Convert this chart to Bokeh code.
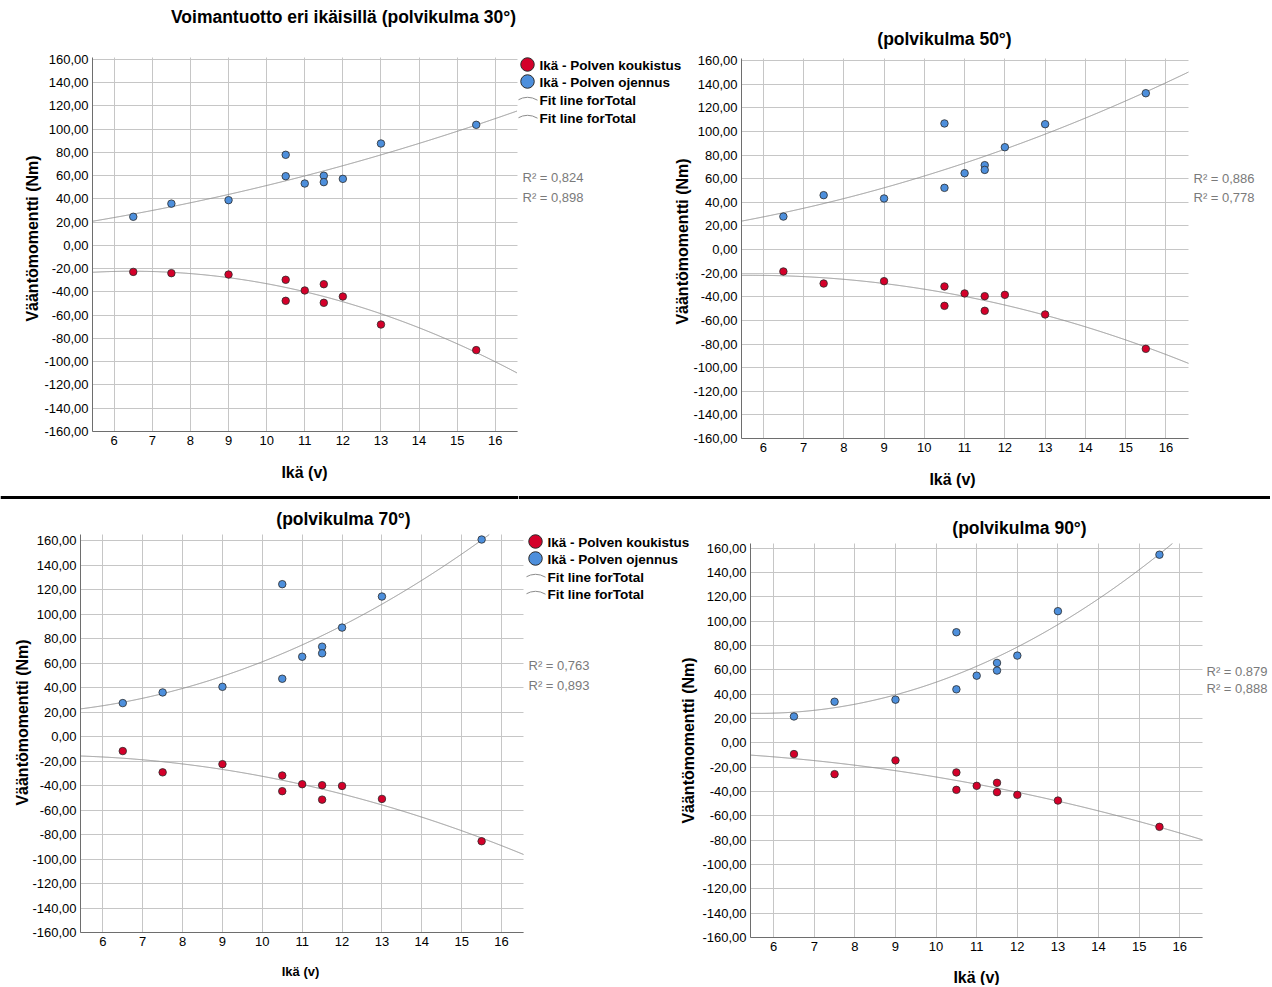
import math
import numpy as np
from bokeh.plotting import figure
from bokeh.models import Label, FixedTicker, Range1d, LinearAxis, Grid, Span
from bokeh.layouts import column, row
from bokeh.embed import file_html
from bokeh.resources import INLINE

# ---------------- data ----------------
ages = [6.5, 7.5, 9.0, 10.5, 10.5, 11.0, 11.5, 11.5, 12.0, 13.0, 15.5]

ext_30 = [24.7, 36.0, 39.0, 78.0, 59.6, 53.3, 60.0, 54.5, 57.3, 87.7, 103.8]
flex_30 = [-22.7, -23.8, -25.0, -29.5, -47.6, -38.7, -33.3, -49.3, -43.9, -68.0, -90.0]

ext_50 = [27.9, 46.0, 43.2, 106.7, 52.2, 64.6, 71.4, 67.4, 86.6, 106.1, 132.3]
flex_50 = [-18.6, -28.8, -26.8, -31.3, -47.7, -37.2, -39.5, -51.9, -38.4, -55.0, -84.1]

ext_70 = [27.5, 36.2, 40.8, 124.7, 47.4, 65.4, 73.6, 68.2, 89.2, 114.6, 161.2]
flex_70 = [-11.7, -29.1, -22.4, -31.7, -44.5, -38.8, -39.6, -51.4, -40.2, -50.8, -85.4]

ext_90 = [21.6, 33.7, 35.4, 90.8, 43.9, 55.1, 65.6, 59.3, 71.6, 108.1, 154.5]
flex_90 = [-9.3, -25.8, -14.5, -24.4, -38.7, -35.4, -32.9, -40.6, -42.8, -47.5, -69.1]

y_ticks = [-160, -140, -120, -100, -80, -60, -40, -20, 0, 20, 40, 60, 80, 100, 120, 140, 160]
y_tick_labels = ["-160,00", "-140,00", "-120,00", "-100,00", "-80,00", "-60,00", "-40,00",
                 "-20,00", "0,00", "20,00", "40,00", "60,00", "80,00", "100,00", "120,00",
                 "140,00", "160,00"]
x_ticks = [6, 7, 8, 9, 10, 11, 12, 13, 14, 15, 16]
x_tick_labels = ["6", "7", "8", "9", "10", "11", "12", "13", "14", "15", "16"]

titles = ["Voimantuotto eri ikäisillä (polvikulma 30°)", "(polvikulma 50°)",
          "(polvikulma 70°)", "(polvikulma 90°)"]
r2_texts = [["R² = 0,824", "R² = 0,898"], ["R² = 0,886", "R² = 0,778"],
            ["R² = 0,763", "R² = 0,893"], ["R² = 0.879", "R² = 0,888"]]
legend_labels = ["Ikä - Polven koukistus", "Ikä - Polven ojennus",
                 "Fit line forTotal", "Fit line forTotal"]
y_title = "Vääntömomentti (Nm)"
x_title = "Ikä (v)"

RED = "#d4002a"
BLUE = "#4d8fdc"
FIT = "#8c8c8c"
GRID = "#c6c6c6"
AXIS = "#6e6e6e"
R2COL = "#7a7a7a"
FONT = "Liberation Sans"


class Geo:
    """Maps page pixels to a panel's data space (the frame fills the canvas)."""
    def __init__(self, cx, cy, W, H, bx0, bx1, by0, by1, xr, yr):
        self.cx, self.cy, self.W, self.H = cx, cy, W, H
        self.xr, self.yr = xr, yr
        self.kx = (xr[1] - xr[0]) / (bx1 - bx0)
        self.ky = (yr[1] - yr[0]) / (by1 - by0)
        self.x_start = xr[0] - (bx0 - cx) * self.kx
        self.x_end = xr[1] + (cx + W - bx1) * self.kx
        self.y_end = yr[1] + (by0 - cy) * self.ky
        self.y_start = yr[0] - (cy + H - by1) * self.ky

    def dx(self, sx):
        return self.x_start + (sx - self.cx) * self.kx

    def dy(self, sy):
        return self.y_end - (sy - self.cy) * self.ky


def make_panel(g, ext, flex):
    p = figure(width=g.W, height=g.H, x_range=Range1d(g.x_start, g.x_end),
               y_range=Range1d(g.y_start, g.y_end), x_axis_type=None, y_axis_type=None,
               min_border=0, title=None, output_backend="svg", toolbar_location=None,
               outline_line_color=None, background_fill_color="white",
               border_fill_color="white")
    x0, x1 = g.xr
    y0, y1 = g.yr
    try:
        vg = Grid(dimension=0, ticker=FixedTicker(ticks=x_ticks), cross_bounds=(y0, y1),
                  grid_line_color=GRID, grid_line_width=1)
        hg = Grid(dimension=1, ticker=FixedTicker(ticks=y_ticks), cross_bounds=(x0, x1),
                  grid_line_color=GRID, grid_line_width=1)
        p.add_layout(vg)
        p.add_layout(hg)
    except Exception:
        p.segment(x0=x_ticks, y0=[y0] * len(x_ticks), x1=x_ticks, y1=[y1] * len(x_ticks),
                  line_color=GRID, line_width=1)
        p.segment(x0=[x0] * len(y_ticks), y0=y_ticks, x1=[x1] * len(y_ticks), y1=y_ticks,
                  line_color=GRID, line_width=1)

    yax = LinearAxis(fixed_location=x0, bounds=(y0, y1), ticker=FixedTicker(ticks=y_ticks),
                     major_label_overrides=dict(zip(y_ticks, y_tick_labels)))
    xax = LinearAxis(fixed_location=y0, bounds=(x0, x1), ticker=FixedTicker(ticks=x_ticks),
                     major_label_overrides=dict(zip(x_ticks, x_tick_labels)))
    for ax in (xax, yax):
        ax.major_tick_out = 0
        ax.major_tick_in = 0
        ax.minor_tick_out = 0
        ax.minor_tick_in = 0
        ax.axis_line_color = AXIS
        ax.major_label_text_font = FONT
        ax.major_label_text_font_size = "13px"
        ax.major_label_text_color = "black"
    xax.major_label_standoff = 4
    yax.major_label_standoff = 4
    p.add_layout(yax, "left")
    p.add_layout(xax, "below")

    # quadratic fit lines (regression of the plotted data), kept inside the plot box
    xs = np.linspace(x0, x1, 1500)
    for ser in (ext, flex):
        coef = np.polyfit(ages, ser, 2)
        ys = np.polyval(coef, xs)
        ys = np.where((ys > y1) | (ys < y0), np.nan, ys)
        p.line(xs, ys, line_color=FIT, line_width=1)
    p.scatter(ages, flex, size=7.5, fill_color=RED, line_color="#2b2b2b", line_width=0.8)
    p.scatter(ages, ext, size=7.5, fill_color=BLUE, line_color="#2b2b2b", line_width=0.8)
    return p


def put(p, g, sx, sy, text, size, bold=False, color="black", align="center",
        baseline="middle", angle=0):
    p.add_layout(Label(x=g.dx(sx), y=g.dy(sy), text=text, text_font=FONT,
                       text_font_size=f"{size}px",
                       text_font_style="bold" if bold else "normal",
                       text_color=color, text_align=align, text_baseline=baseline,
                       angle=angle, angle_units="deg"))


def legend(p, g, x, ys):
    R = 20
    for i, (y, lab) in enumerate(zip(ys, legend_labels)):
        if i < 2:
            col = RED if i == 0 else BLUE
            p.scatter([g.dx(x)], [g.dy(y)], size=13.5, fill_color=col,
                      line_color="#2b2b2b", line_width=1)
        else:
            p.arc(x=[g.dx(x)], y=[g.dy(y - 2 + R)], radius=R, radius_units="screen",
                  start_angle=math.radians(60), end_angle=math.radians(120),
                  line_color=FIT, line_width=1)
        put(p, g, x + 12, y + 1, lab, 13.5, bold=True, align="left")


# ---------------- panels ----------------
# canvases: top row split at x=518, bottom row split at x=526
g1 = Geo(0, 0, 518, 500, 92, 516.5, 57, 431, (5.43, 16.57), (-160, 161.7))
g2 = Geo(518, 0, 752, 500, 741, 1188, 58, 438, (5.46, 16.56), (-160, 161.7))
g3 = Geo(0, 500, 526, 485, 80, 523, 534, 932, (5.44, 16.55), (-160, 165.3))
g4 = Geo(526, 500, 744, 485, 750, 1202, 543, 937, (5.43, 16.56), (-160, 163.7))

p1 = make_panel(g1, ext_30, flex_30)
p2 = make_panel(g2, ext_50, flex_50)
p3 = make_panel(g3, ext_70, flex_70)
p4 = make_panel(g4, ext_90, flex_90)

# panel 1 texts (legend and R² of panel 1 sit on the neighbouring canvas)
put(p1, g1, 343, 16, titles[0], 17.5, bold=True)
put(p1, g1, 32, 238, y_title, 16, bold=True, angle=90)
put(p1, g1, 304, 472, x_title, 16, bold=True)
legend(p2, g2, 527, [64, 81, 99, 117])
put(p2, g2, 522, 177, r2_texts[0][0], 13, color=R2COL, align="left")
put(p2, g2, 522, 197, r2_texts[0][1], 13, color=R2COL, align="left")

# panel 2 texts
put(p2, g2, 682, 241, y_title, 16, bold=True, angle=90)
put(p2, g2, 944, 38, titles[1], 17.5, bold=True)
put(p2, g2, 952, 479, x_title, 16, bold=True)
put(p2, g2, 1193, 178, r2_texts[1][0], 13, color=R2COL, align="left")
put(p2, g2, 1193, 197, r2_texts[1][1], 13, color=R2COL, align="left")

# panel 3 texts
put(p3, g3, 343, 518, titles[2], 17.5, bold=True)
put(p3, g3, 22, 722, y_title, 16, bold=True, angle=90)
put(p3, g3, 300, 971, x_title, 13, bold=True)
legend(p4, g4, 535, [541, 558, 576, 593])
put(p4, g4, 528, 665, r2_texts[2][0], 13, color=R2COL, align="left")
put(p4, g4, 528, 685, r2_texts[2][1], 13, color=R2COL, align="left")

# panel 4 texts
put(p4, g4, 688, 740, y_title, 16, bold=True, angle=90)
put(p4, g4, 1019, 527, titles[3], 17.5, bold=True)
put(p4, g4, 976, 977, x_title, 16, bold=True)
put(p4, g4, 1206, 671, r2_texts[3][0], 13, color=R2COL, align="left")
put(p4, g4, 1206, 688, r2_texts[3][1], 13, color=R2COL, align="left")

# separator line between the two rows
for p, g in ((p1, g1), (p2, g2)):
    p.add_layout(Span(location=g.dy(497), dimension="width", line_color="black", line_width=3))

layout = column(row(p1, p2), row(p3, p4))
open("out.html", "w").write(file_html(layout, INLINE))
